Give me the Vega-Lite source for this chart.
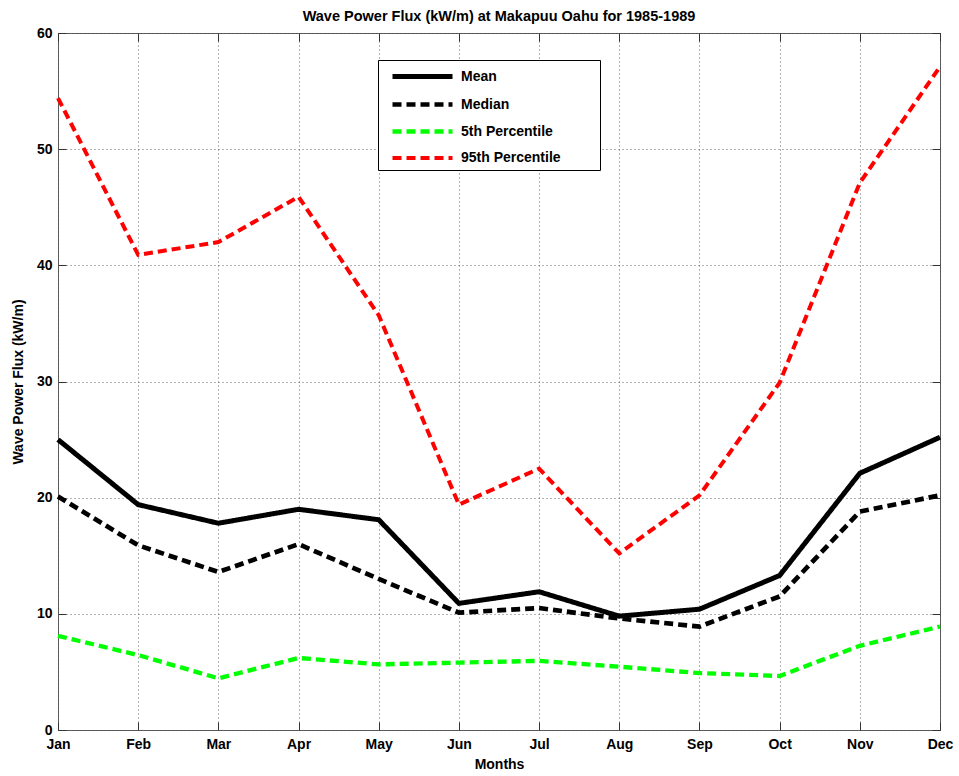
{
  "$schema": "https://vega.github.io/schema/vega-lite/v6.json",
  "width": 882,
  "height": 697,
  "autosize": {"type": "none"},
  "padding": {"left": 58, "top": 33, "right": 19, "bottom": 46},
  "background": "white",
  "title": {"text": "Wave Power Flux (kW/m) at Makapuu Oahu for 1985-1989", "font": "Liberation Sans", "fontSize": 14.5, "fontWeight": "bold", "color": "black", "offset": 2, "anchor": "middle"},
  "config": {
    "view": {"stroke": "#555555", "strokeWidth": 1},
    "axis": {"labelFont": "Liberation Sans", "labelFontSize": 14, "labelFontWeight": "bold", "labelColor": "black", "titleFont": "Liberation Sans", "titleFontSize": 14, "titleFontWeight": "bold", "titleColor": "black", "gridColor": "#666666", "gridDash": [1, 3], "gridOpacity": 1, "domain": false, "tickColor": "#333333", "tickSize": -8}
  },
  "data": {"values": [
    {"month": "Jan", "series": "Mean", "value": 25.0},
    {"month": "Feb", "series": "Mean", "value": 19.4},
    {"month": "Mar", "series": "Mean", "value": 17.8},
    {"month": "Apr", "series": "Mean", "value": 19.0},
    {"month": "May", "series": "Mean", "value": 18.1},
    {"month": "Jun", "series": "Mean", "value": 10.9},
    {"month": "Jul", "series": "Mean", "value": 11.9},
    {"month": "Aug", "series": "Mean", "value": 9.8},
    {"month": "Sep", "series": "Mean", "value": 10.4},
    {"month": "Oct", "series": "Mean", "value": 13.3},
    {"month": "Nov", "series": "Mean", "value": 22.1},
    {"month": "Dec", "series": "Mean", "value": 25.2},
    {"month": "Jan", "series": "Median", "value": 20.1},
    {"month": "Feb", "series": "Median", "value": 15.9},
    {"month": "Mar", "series": "Median", "value": 13.6},
    {"month": "Apr", "series": "Median", "value": 16.0},
    {"month": "May", "series": "Median", "value": 13.0},
    {"month": "Jun", "series": "Median", "value": 10.1},
    {"month": "Jul", "series": "Median", "value": 10.5},
    {"month": "Aug", "series": "Median", "value": 9.6},
    {"month": "Sep", "series": "Median", "value": 8.9},
    {"month": "Oct", "series": "Median", "value": 11.5},
    {"month": "Nov", "series": "Median", "value": 18.8},
    {"month": "Dec", "series": "Median", "value": 20.2},
    {"month": "Jan", "series": "5th Percentile", "value": 8.1},
    {"month": "Feb", "series": "5th Percentile", "value": 6.45},
    {"month": "Mar", "series": "5th Percentile", "value": 4.45},
    {"month": "Apr", "series": "5th Percentile", "value": 6.2},
    {"month": "May", "series": "5th Percentile", "value": 5.65},
    {"month": "Jun", "series": "5th Percentile", "value": 5.8},
    {"month": "Jul", "series": "5th Percentile", "value": 5.95},
    {"month": "Aug", "series": "5th Percentile", "value": 5.45},
    {"month": "Sep", "series": "5th Percentile", "value": 4.9},
    {"month": "Oct", "series": "5th Percentile", "value": 4.65},
    {"month": "Nov", "series": "5th Percentile", "value": 7.25},
    {"month": "Dec", "series": "5th Percentile", "value": 8.9},
    {"month": "Jan", "series": "95th Percentile", "value": 54.4},
    {"month": "Feb", "series": "95th Percentile", "value": 40.9},
    {"month": "Mar", "series": "95th Percentile", "value": 42.0},
    {"month": "Apr", "series": "95th Percentile", "value": 45.9},
    {"month": "May", "series": "95th Percentile", "value": 35.7},
    {"month": "Jun", "series": "95th Percentile", "value": 19.4},
    {"month": "Jul", "series": "95th Percentile", "value": 22.5},
    {"month": "Aug", "series": "95th Percentile", "value": 15.2},
    {"month": "Sep", "series": "95th Percentile", "value": 20.2},
    {"month": "Oct", "series": "95th Percentile", "value": 29.9},
    {"month": "Nov", "series": "95th Percentile", "value": 47.1},
    {"month": "Dec", "series": "95th Percentile", "value": 57.1}
  ]},
  "layer": [
    {
      "mark": {"type": "line", "strokeCap": "butt", "strokeJoin": "miter"},
      "encoding": {
        "x": {"field": "month", "type": "ordinal", "sort": ["Jan","Feb","Mar","Apr","May","Jun","Jul","Aug","Sep","Oct","Nov","Dec"], "scale": {"type": "point", "padding": 0}, "axis": {"title": "Months", "labelAngle": 0, "grid": true, "labelPadding": 15, "titlePadding": 6}},
        "y": {"field": "value", "type": "quantitative", "scale": {"domain": [0, 60], "nice": false}, "axis": {"title": "Wave Power Flux (kW/m)", "values": [0,10,20,30,40,50,60], "grid": true, "labelPadding": 14, "titlePadding": 11}},
        "color": {"field": "series", "type": "nominal", "scale": {"domain": ["Mean","Median","5th Percentile","95th Percentile"], "range": ["#000000","#000000","#00ff00","#ff0000"]},
          "legend": {"title": null, "orient": "none", "legendX": 320, "legendY": 27, "direction": "vertical", "fillColor": "white", "strokeColor": "black", "padding": 4, "labelFont": "Liberation Sans", "labelFontSize": 14, "labelFontWeight": "bold", "labelColor": "black", "symbolType": "M-3,0H3", "symbolSize": 400, "symbolStrokeWidth": 4, "symbolOffset": 28, "labelOffset": 26, "rowPadding": 5, "labelLimit": 400, "labelExpr": "datum.label + '\u00a0\u00a0\u00a0\u00a0\u00a0\u00a0\u00a0\u00a0\u00a0\u200b'"}},
        "strokeDash": {"field": "series", "type": "nominal", "scale": {"domain": ["Mean","Median","5th Percentile","95th Percentile"], "range": [[1,0],[9,5],[9,5],[9,5]]}},
        "strokeWidth": {"field": "series", "type": "nominal", "scale": {"domain": ["Mean","Median","5th Percentile","95th Percentile"], "range": [5,4,4,4]}},
        "order": {"value": null}
      }
    },
    {
      "mark": {"type": "line", "opacity": 0},
      "encoding": {
        "x": {"field": "month", "type": "ordinal", "sort": ["Jan","Feb","Mar","Apr","May","Jun","Jul","Aug","Sep","Oct","Nov","Dec"], "axis": {"orient": "top", "title": null, "labels": false, "grid": false}},
        "y": {"field": "value", "type": "quantitative", "axis": {"orient": "right", "title": null, "labels": false, "grid": false, "values": [0,10,20,30,40,50,60]}},
        "detail": {"field": "series", "type": "nominal"},
        "order": {"value": null}
      }
    }
  ],
  "resolve": {"axis": {"x": "independent", "y": "independent"}}
}
